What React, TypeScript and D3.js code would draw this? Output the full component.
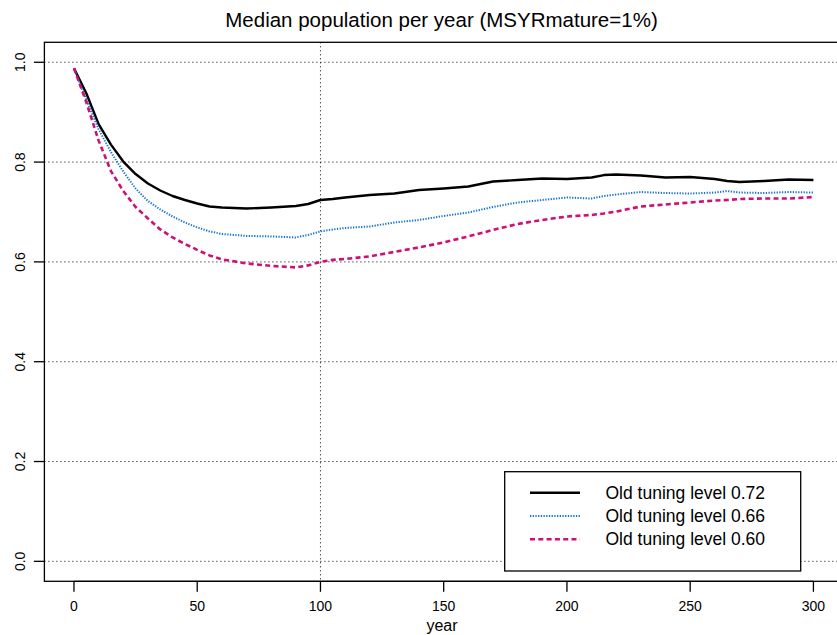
import React from "react";
import * as d3 from "d3";

const years = [0, 5, 10, 15, 20, 25, 30, 35, 40, 45, 50, 55, 60, 70, 80, 90, 95, 100, 105, 110, 120, 130, 140, 150, 160, 170, 180, 190, 200, 210, 215, 220, 230, 240, 250, 260, 265, 270, 280, 290, 300];
const level072 = [0.988, 0.938, 0.876, 0.835, 0.801, 0.776, 0.757, 0.743, 0.732, 0.724, 0.717, 0.711, 0.709, 0.707, 0.709, 0.712, 0.716, 0.724, 0.726, 0.729, 0.734, 0.737, 0.744, 0.747, 0.751, 0.761, 0.764, 0.767, 0.766, 0.769, 0.774, 0.775, 0.773, 0.769, 0.770, 0.766, 0.762, 0.760, 0.762, 0.765, 0.764];
const level066 = [0.988, 0.925, 0.866, 0.82, 0.781, 0.747, 0.722, 0.705, 0.691, 0.679, 0.669, 0.661, 0.656, 0.652, 0.651, 0.649, 0.654, 0.661, 0.665, 0.668, 0.671, 0.679, 0.684, 0.692, 0.699, 0.710, 0.719, 0.724, 0.729, 0.727, 0.732, 0.735, 0.740, 0.738, 0.737, 0.739, 0.742, 0.739, 0.738, 0.740, 0.739];
const level060 = [0.988, 0.92, 0.843, 0.782, 0.742, 0.71, 0.687, 0.665, 0.649, 0.636, 0.624, 0.613, 0.605, 0.597, 0.592, 0.589, 0.593, 0.600, 0.604, 0.606, 0.611, 0.620, 0.629, 0.639, 0.651, 0.664, 0.676, 0.684, 0.691, 0.694, 0.697, 0.701, 0.711, 0.715, 0.719, 0.723, 0.724, 0.726, 0.727, 0.727, 0.730];

const seriesNames = ["Old tuning level 0.72", "Old tuning level 0.66", "Old tuning level 0.60"];
const xTicks = [0, 50, 100, 150, 200, 250, 300];
const yTicks = [0, 0.2, 0.4, 0.6, 0.8, 1.0];
const yTickLabels = ["0.0", "0.2", "0.4", "0.6", "0.8", "1.0"];
const vGrid = [100];

const W = 837;
const H = 635;
const FONT = "'Liberation Sans', Arial, Helvetica, sans-serif";

export default function App() {
  const x = d3.scaleLinear().domain([-12, 312]).range([44.4, 843]);
  const y = d3.scaleLinear().domain([-0.04, 1.04]).range([581.3, 42.3]);

  const styles = [
    { stroke: "#000000", width: 2.4, dash: undefined as string | undefined },
    { stroke: "#1874CD", width: 2, dash: "1.3 1.4" },
    { stroke: "#CD1076", width: 2.6, dash: "5 3.3" },
  ];
  const data = [level072, level066, level060];

  const line = (vals: number[]) =>
    d3
      .line<number>()
      .x((_, i) => x(years[i]))
      .y((d) => y(d))(vals) || "";

  const x0 = x(-12);
  const x1 = x(312);
  const yTop = y(1.04);
  const yBot = y(-0.04);

  const legX = 504.7;
  const legY = 471.7;
  const legW = 296;
  const legH = 99.3;
  const legRows = [492.7, 516, 539.3];

  return (
    <svg
      width={W}
      height={H}
      style={{ position: "absolute", left: 0, top: 0, background: "#fff" }}
      fontFamily={FONT}
    >
      <rect x={0} y={0} width={W} height={H} fill="#fff" />
      <text x={441.5} y={27} textAnchor="middle" fontSize={20.5} fill="#000">
        Median population per year (MSYRmature=1%)
      </text>

      {/* grid */}
      {yTicks.map((t) => (
        <line key={"hg" + t} x1={x0} x2={x1} y1={y(t)} y2={y(t)} stroke="#000" strokeWidth={1} strokeDasharray="1 3" />
      ))}
      {vGrid.map((t) => (
        <line key={"vg" + t} x1={x(t)} x2={x(t)} y1={yTop} y2={yBot} stroke="#000" strokeWidth={1} strokeDasharray="1 3" />
      ))}

      {/* lines */}
      {data.map((vals, i) => (
        <path
          key={"l" + i}
          d={line(vals)}
          fill="none"
          stroke={styles[i].stroke}
          strokeWidth={styles[i].width}
          strokeDasharray={styles[i].dash}
          strokeLinejoin="round"
        />
      ))}

      {/* box */}
      <rect x={x0} y={yTop} width={x1 - x0} height={yBot - yTop} fill="none" stroke="#000" strokeWidth={1.3} />

      {/* x axis */}
      <line x1={x(0)} x2={x(300)} y1={yBot} y2={yBot} stroke="#000" strokeWidth={1.3} />
      {xTicks.map((t) => (
        <g key={"xt" + t}>
          <line x1={x(t)} x2={x(t)} y1={yBot} y2={yBot + 10.5} stroke="#000" strokeWidth={1.3} />
          <text x={x(t)} y={610.5} textAnchor="middle" fontSize={14} fill="#000">
            {t}
          </text>
        </g>
      ))}
      <text x={442} y={630.5} textAnchor="middle" fontSize={16} fill="#000">
        year
      </text>

      {/* y axis */}
      {yTicks.map((t, i) => (
        <g key={"yt" + t}>
          <line x1={x0} x2={x0 - 10.5} y1={y(t)} y2={y(t)} stroke="#000" strokeWidth={1.3} />
          <text
            transform={`translate(${24.5},${y(t)}) rotate(-90)`}
            textAnchor="middle"
            fontSize={14}
            fill="#000"
          >
            {yTickLabels[i]}
          </text>
        </g>
      ))}

      {/* legend */}
      <rect x={legX} y={legY} width={legW} height={legH} fill="#fff" stroke="#000" strokeWidth={1.3} />
      {seriesNames.map((name, i) => (
        <g key={"lg" + i}>
          <line
            x1={530}
            x2={580}
            y1={legRows[i]}
            y2={legRows[i]}
            stroke={styles[i].stroke}
            strokeWidth={styles[i].width}
            strokeDasharray={styles[i].dash}
          />
          <text x={605.5} y={legRows[i] + 6} fontSize={17.5} fill="#000">
            {name}
          </text>
        </g>
      ))}
    </svg>
  );
}
